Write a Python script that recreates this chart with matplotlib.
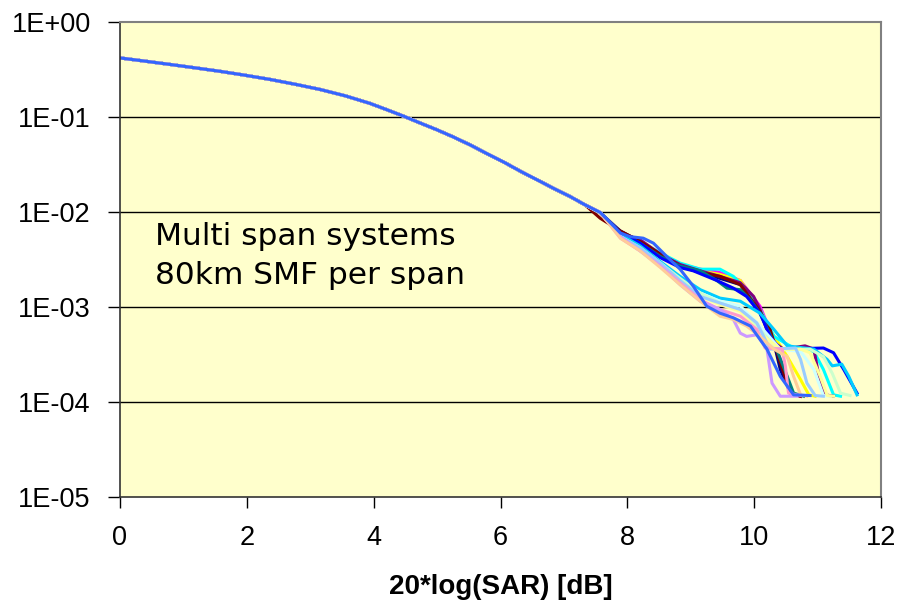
import matplotlib
matplotlib.use("Agg")
import matplotlib.pyplot as plt
from matplotlib.ticker import FixedLocator

# common part of all curves (they overlap up to ~7.5 dB)
head_x = [0, 0.39, 0.79, 1.18, 1.58, 1.97, 2.37, 2.76, 3.15, 3.55, 3.94, 4.21,
          4.47, 4.73, 4.99, 5.26, 5.52, 5.78, 6.05, 6.31, 6.57, 6.83, 7.10, 7.33]
head_y = [0.418, 0.387, 0.357, 0.329, 0.302, 0.275, 0.248, 0.221, 0.195, 0.167,
          0.139, 0.119, 0.102, 0.0865, 0.0736, 0.0614, 0.0508, 0.0413, 0.0335,
          0.0269, 0.0219, 0.0178, 0.0145, 0.0119]

# tails of the single runs
navy_x = [7.57, 7.89, 8.20, 8.52, 8.83, 9.15, 9.46, 9.78, 10.09, 10.31, 10.41, 10.57, 10.73]
navy_y = [9.8e-3, 6.3e-3, 4.9e-3, 3.6e-3, 2.7e-3, 2.3e-3, 2.0e-3, 1.72e-3, 9.4e-4, 4.2e-4, 2.2e-4, 1.24e-4, 1.15e-4]

magenta_x = [7.57, 7.89, 8.20, 8.52, 8.83, 9.15, 9.46, 9.78, 10.09, 10.31, 10.44, 10.57, 10.73]
magenta_y = [9.9e-3, 6.0e-3, 4.7e-3, 3.6e-3, 2.8e-3, 2.5e-3, 2.3e-3, 1.9e-3, 1.02e-3, 4.5e-4, 2.4e-4, 1.24e-4, 1.15e-4]

yellow_x = [7.57, 7.89, 8.20, 8.52, 8.83, 9.15, 9.46, 9.78, 10.09, 10.23, 10.52, 10.73, 10.86, 10.96]
yellow_y = [9.8e-3, 5.8e-3, 4.5e-3, 3.4e-3, 2.7e-3, 2.4e-3, 2.2e-3, 1.9e-3, 9.4e-4, 6.0e-4, 3.0e-4, 1.72e-4, 1.19e-4, 1.15e-4]

cyan_x = [7.57, 7.89, 8.20, 8.52, 8.83, 9.15, 9.31, 9.46, 9.67, 9.88, 10.09, 10.31, 10.62, 10.94, 11.09, 11.25, 11.36]
cyan_y = [9.9e-3, 6.0e-3, 4.9e-3, 3.7e-3, 2.9e-3, 2.5e-3, 2.5e-3, 2.5e-3, 2.1e-3, 1.52e-3, 9.4e-4, 4.9e-4, 3.7e-4, 3.4e-4, 2.2e-4, 1.19e-4, 1.15e-4]

purple_x = [7.57, 7.89, 8.20, 8.52, 8.83, 9.15, 9.46, 9.78, 9.99, 10.09, 10.25, 10.46, 10.80, 10.94, 11.01, 11.12, 11.25]
purple_y = [9.8e-3, 6.0e-3, 5.1e-3, 3.6e-3, 2.8e-3, 2.4e-3, 2.1e-3, 1.8e-3, 1.29e-3, 9.4e-4, 4.5e-4, 3.6e-4, 3.9e-4, 3.6e-4, 2.0e-4, 1.19e-4, 1.15e-4]

maroon_x = [7.57, 7.89, 8.20, 8.52, 8.83, 9.15, 9.46, 9.78, 10.09, 10.25, 10.41, 10.57, 10.73]
maroon_y = [8.6e-3, 6.3e-3, 4.9e-3, 3.6e-3, 2.7e-3, 2.3e-3, 2.1e-3, 1.72e-3, 9.0e-4, 5.8e-4, 2.6e-4, 1.24e-4, 1.15e-4]

teal_x = [7.57, 7.89, 8.20, 8.52, 8.83, 9.15, 9.41, 9.57, 9.78, 9.94, 10.09, 10.31, 10.52, 10.62, 10.78]
teal_y = [9.8e-3, 6.0e-3, 4.7e-3, 3.4e-3, 2.7e-3, 2.4e-3, 1.9e-3, 1.58e-3, 1.52e-3, 1.19e-3, 8.6e-4, 4.2e-4, 1.86e-4, 1.24e-4, 1.15e-4]

blue_x = [7.57, 7.89, 8.20, 8.52, 8.83, 9.04, 9.41, 9.67, 9.88, 10.09, 10.25, 10.41, 11.09, 11.25, 11.41, 11.62]
blue_y = [9.8e-3, 6.0e-3, 4.7e-3, 3.3e-3, 2.6e-3, 2.4e-3, 1.9e-3, 1.58e-3, 1.29e-3, 8.6e-4, 4.9e-4, 3.6e-4, 3.7e-4, 3.3e-4, 2.2e-4, 1.24e-4]

sky_x = [7.57, 7.89, 8.20, 8.52, 8.83, 9.15, 9.46, 9.78, 10.09, 10.31, 10.52, 10.94, 11.15, 11.23, 11.38, 11.49, 11.62]
sky_y = [9.8e-3, 5.8e-3, 4.4e-3, 3.0e-3, 2.1e-3, 1.52e-3, 1.24e-3, 1.15e-3, 8.6e-4, 5.8e-4, 3.9e-4, 3.6e-4, 2.8e-4, 2.4e-4, 2.5e-4, 1.86e-4, 1.19e-4]

turq_x = [7.57, 7.89, 8.20, 8.52, 8.83, 9.15, 9.46, 9.78, 10.09, 10.41, 10.73, 10.94, 11.09, 11.20]
turq_y = [9.8e-3, 5.5e-3, 4.0e-3, 2.9e-3, 1.9e-3, 1.40e-3, 1.15e-3, 1.02e-3, 6.3e-4, 3.6e-4, 3.4e-4, 2.2e-4, 1.17e-4, 1.15e-4]

lgreen_x = [7.57, 7.89, 8.20, 8.52, 8.83, 9.15, 9.46, 9.78, 10.09, 10.36, 10.88, 11.09, 11.23, 11.36, 11.51]
lgreen_y = [9.8e-3, 5.5e-3, 4.2e-3, 2.9e-3, 2.0e-3, 1.40e-3, 1.10e-3, 9.4e-4, 5.8e-4, 3.6e-4, 3.6e-4, 3.0e-4, 2.0e-4, 1.24e-4, 1.17e-4]

lyellow_x = [7.57, 7.89, 8.20, 8.52, 8.83, 9.15, 9.46, 9.78, 10.09, 10.41, 10.73, 10.88, 11.04, 11.15, 11.25]
lyellow_y = [9.8e-3, 5.5e-3, 4.0e-3, 2.7e-3, 1.8e-3, 1.29e-3, 1.06e-3, 9.0e-4, 5.3e-4, 3.6e-4, 3.6e-4, 3.3e-4, 1.86e-4, 1.17e-4, 1.15e-4]

paleblue_x = [7.57, 7.89, 8.20, 8.52, 8.83, 9.15, 9.46, 9.78, 10.04, 10.25, 10.65, 10.73, 10.83, 10.96, 11.09]
paleblue_y = [9.9e-3, 5.5e-3, 4.2e-3, 2.9e-3, 1.9e-3, 1.29e-3, 1.10e-3, 9.4e-4, 6.8e-4, 3.6e-4, 3.7e-4, 2.8e-4, 1.58e-4, 1.17e-4, 1.15e-4]

rose_x = [7.57, 7.89, 8.20, 8.52, 8.83, 9.15, 9.46, 9.78, 10.04, 10.17, 10.44, 10.49, 10.54, 10.73]
rose_y = [9.9e-3, 5.3e-3, 3.9e-3, 2.7e-3, 1.8e-3, 1.19e-3, 9.4e-4, 8.0e-4, 5.8e-4, 3.7e-4, 3.6e-4, 2.4e-4, 1.24e-4, 1.17e-4]

lavender_x = [7.57, 7.89, 8.20, 8.52, 8.83, 9.15, 9.46, 9.67, 9.78, 9.88, 10.04, 10.20, 10.28, 10.41, 10.67]
lavender_y = [9.9e-3, 5.5e-3, 3.9e-3, 2.7e-3, 1.72e-3, 1.15e-3, 9.4e-4, 7.4e-4, 5.3e-4, 4.9e-4, 5.1e-4, 3.6e-4, 1.58e-4, 1.15e-4, 1.15e-4]

tan_x = [7.57, 7.89, 8.20, 8.52, 8.83, 9.15, 9.46, 9.67, 9.88, 10.09, 10.31, 10.52, 10.62, 10.73, 10.83]
tan_y = [9.9e-3, 5.3e-3, 3.9e-3, 2.6e-3, 1.72e-3, 1.15e-3, 8.0e-4, 7.4e-4, 6.3e-4, 4.9e-4, 3.6e-4, 3.0e-4, 1.86e-4, 1.19e-4, 1.15e-4]

royal_x = [7.57, 7.89, 8.04, 8.25, 8.41, 8.62, 8.83, 9.04, 9.25, 9.46, 9.67, 9.94, 10.20, 10.41, 10.62, 10.88]
royal_y = [9.9e-3, 6.0e-3, 5.5e-3, 5.3e-3, 4.7e-3, 3.4e-3, 2.5e-3, 1.65e-3, 1.02e-3, 8.6e-4, 7.7e-4, 6.3e-4, 3.6e-4, 1.86e-4, 1.19e-4, 1.17e-4]

runs = [
    (navy_x, navy_y, "#000080"),
    (magenta_x, magenta_y, "#FF00FF"),
    (yellow_x, yellow_y, "#FFFF00"),
    (cyan_x, cyan_y, "#00FFFF"),
    (purple_x, purple_y, "#800080"),
    (maroon_x, maroon_y, "#800000"),
    (teal_x, teal_y, "#008080"),
    (blue_x, blue_y, "#0000FF"),
    (sky_x, sky_y, "#00CCFF"),
    (turq_x, turq_y, "#CCFFFF"),
    (lgreen_x, lgreen_y, "#CCFFCC"),
    (lyellow_x, lyellow_y, "#FFFF99"),
    (paleblue_x, paleblue_y, "#99CCFF"),
    (rose_x, rose_y, "#FF99CC"),
    (lavender_x, lavender_y, "#CC99FF"),
    (tan_x, tan_y, "#FFCC99"),
    (royal_x, royal_y, "#3366FF"),
]

x_ticks = [0, 2, 4, 6, 8, 10, 12]
y_ticks = [1e-5, 1e-4, 1e-3, 1e-2, 1e-1, 1e0]
y_labels = ["1E-05", "1E-04", "1E-03", "1E-02", "1E-01", "1E+00"]

plt.rcParams["font.family"] = "Liberation Sans"

fig = plt.figure(figsize=(9.04, 6.01), dpi=100)
ax = fig.add_axes([0.1327, 0.173, 0.842, 0.7905])
ax.set_facecolor("#FFFFCC")

for xs, ys, col in runs:
    ax.plot(head_x + xs, head_y + ys, color=col, lw=2.2, solid_joinstyle="round")

ax.set_yscale("log")
ax.set_xlim(0, 12)
ax.set_ylim(1e-5, 1)
ax.yaxis.set_major_locator(FixedLocator(y_ticks))
ax.yaxis.set_minor_locator(FixedLocator([]))
ax.set_yticks(y_ticks)
ax.set_yticklabels(y_labels)
ax.set_xticks(x_ticks)
ax.set_xticklabels([str(t) for t in x_ticks])

for yv in y_ticks[1:-1]:
    ax.axhline(yv, color="black", lw=1, zorder=0.5)

ax.tick_params(axis="both", direction="out", labelsize=19.5, colors="black")
ax.tick_params(axis="x", length=8, width=1, pad=12)
ax.tick_params(axis="y", length=9, width=1, pad=12)

for side in ("top", "right"):
    ax.spines[side].set_color("#808080")
    ax.spines[side].set_linewidth(1.5)
for side in ("left", "bottom"):
    ax.spines[side].set_color("#333333")
    ax.spines[side].set_linewidth(1.2)

ax.set_xlabel("20*log(SAR) [dB]", fontsize=20, fontweight="bold", labelpad=17)

note = dict(transform=ax.transAxes, fontsize=22.5, family="DejaVu Sans",
            ha="left", va="baseline", color="black")
ax.text(0.046, 0.5305, "Multi span systems", **note)
ax.text(0.046, 0.448, "80km SMF per span", **note)

fig.savefig("out.png", dpi=100)
